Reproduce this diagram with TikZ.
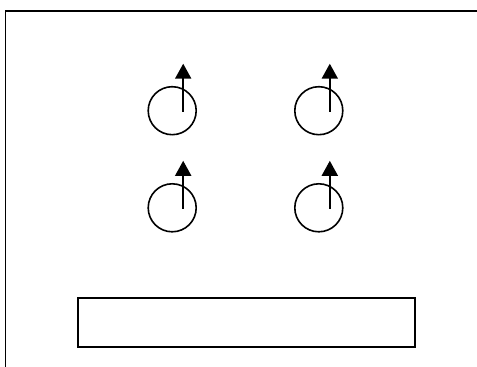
\documentclass[tikz,border=0pt]{standalone}
\usepackage{tikz}
\usetikzlibrary{matrix}
\usetikzlibrary{arrows.meta}

\begin{document}
\begin{tikzpicture}[x=1pt,y=1pt,
  spot/.style={circle, draw, line width=1.6pt, minimum size=48pt, inner sep=0pt, outer sep=0pt},
  spin/.style={line width=1.9pt, -{Triangle[length=15pt,width=16pt]}},
  panel/.style={draw, line width=2pt, minimum width=336.5pt, minimum height=48.5pt, inner sep=0pt, outer sep=0pt}]
\useasboundingbox (0,0) rectangle (477,367);

% frame
\draw[line width=1.7pt] (5.5,0) |- (477,356);

\matrix (a) [matrix of nodes, nodes in empty cells, nodes={spot},
  column sep=97pt, row sep=47.5pt, inner sep=0pt, anchor=center] at (245.5,207.75) {
 & \\
 & \\
};

\draw[spin] ([xshift=11pt,yshift=-1pt]a-1-1.center) -- ([xshift=11pt,yshift=47pt]a-1-1.center);
\draw[spin] ([xshift=11pt,yshift=-1pt]a-1-2.center) -- ([xshift=11pt,yshift=47pt]a-1-2.center);
\draw[spin] ([xshift=11pt,yshift=-1pt]a-2-1.center) -- ([xshift=11pt,yshift=47pt]a-2-1.center);
\draw[spin] ([xshift=11pt,yshift=-1pt]a-2-2.center) -- ([xshift=11pt,yshift=47pt]a-2-2.center);

\node[panel] (b) at (246.25,44.25) {};

\end{tikzpicture}
\end{document}
